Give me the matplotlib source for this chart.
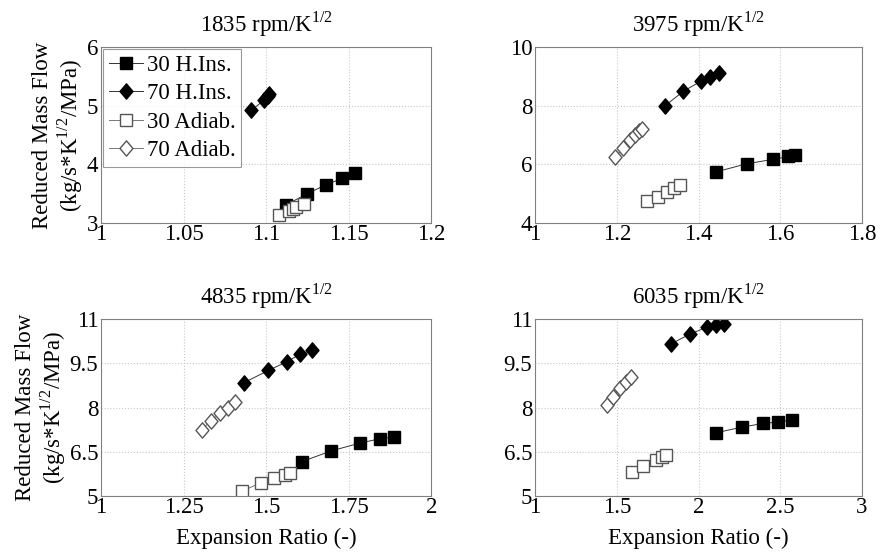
import numpy as np
import matplotlib
matplotlib.use("Agg")
import matplotlib.pyplot as plt
from matplotlib.path import Path

plt.rcParams['font.family'] = ['Liberation Serif', 'DejaVu Serif']
plt.rcParams['mathtext.fontset'] = 'custom'
plt.rcParams['mathtext.rm'] = 'Liberation Serif'

# speeds (rpm/K^1/2)
speeds = [1835, 3975, 4835, 6035]
labels = ["30 H.Ins.", "70 H.Ins.", "30 Adiab.", "70 Adiab."]

# 1835
x_1835_30h = [1.112, 1.125, 1.136, 1.146, 1.154]
y_1835_30h = [3.31, 3.50, 3.65, 3.76, 3.86]
x_1835_70h = [1.091, 1.099, 1.101, 1.102]
y_1835_70h = [4.92, 5.10, 5.16, 5.20]
x_1835_30a = [1.108, 1.114, 1.116, 1.118, 1.123]
y_1835_30a = [3.14, 3.21, 3.24, 3.27, 3.33]
x_1835_70a = []
y_1835_70a = []

# 3975
x_3975_30h = [1.442, 1.518, 1.582, 1.620, 1.636]
y_3975_30h = [5.74, 6.02, 6.17, 6.27, 6.33]
x_3975_70h = [1.318, 1.363, 1.405, 1.428, 1.450]
y_3975_70h = [8.00, 8.49, 8.83, 8.98, 9.11]
x_3975_30a = [1.275, 1.301, 1.323, 1.340, 1.354]
y_3975_30a = [4.74, 4.88, 5.05, 5.19, 5.31]
x_3975_70a = [1.196, 1.216, 1.232, 1.244, 1.254, 1.261]
y_3975_70a = [6.24, 6.56, 6.84, 7.00, 7.12, 7.20]

# 4835
x_4835_30h = [1.609, 1.697, 1.785, 1.844, 1.887]
y_4835_30h = [6.17, 6.53, 6.80, 6.94, 7.00]
x_4835_70h = [1.432, 1.507, 1.564, 1.601, 1.640]
y_4835_70h = [8.84, 9.26, 9.56, 9.80, 9.95]
x_4835_30a = [1.428, 1.484, 1.524, 1.557, 1.573]
y_4835_30a = [5.17, 5.45, 5.61, 5.72, 5.77]
x_4835_70a = [1.306, 1.332, 1.360, 1.385, 1.405]
y_4835_70a = [7.25, 7.55, 7.80, 8.00, 8.20]

# 6035
x_6035_30h = [2.104, 2.267, 2.395, 2.487, 2.572]
y_6035_30h = [7.14, 7.34, 7.46, 7.51, 7.59]
x_6035_70h = [1.829, 1.947, 2.049, 2.106, 2.155]
y_6035_70h = [10.15, 10.49, 10.72, 10.79, 10.82]
x_6035_30a = [1.590, 1.662, 1.737, 1.778, 1.800]
y_6035_30a = [5.80, 6.03, 6.23, 6.33, 6.38]
x_6035_70a = [1.440, 1.479, 1.519, 1.556, 1.587]
y_6035_70a = [8.07, 8.36, 8.65, 8.87, 9.02]

data = {
    1835: [(x_1835_30h, y_1835_30h), (x_1835_70h, y_1835_70h), (x_1835_30a, y_1835_30a), (x_1835_70a, y_1835_70a)],
    3975: [(x_3975_30h, y_3975_30h), (x_3975_70h, y_3975_70h), (x_3975_30a, y_3975_30a), (x_3975_70a, y_3975_70a)],
    4835: [(x_4835_30h, y_4835_30h), (x_4835_70h, y_4835_70h), (x_4835_30a, y_4835_30a), (x_4835_70a, y_4835_70a)],
    6035: [(x_6035_30h, y_6035_30h), (x_6035_70h, y_6035_70h), (x_6035_30a, y_6035_30a), (x_6035_70a, y_6035_70a)],
}

xticks = {1835: [1, 1.05, 1.1, 1.15, 1.2], 3975: [1, 1.2, 1.4, 1.6, 1.8],
          4835: [1, 1.25, 1.5, 1.75, 2], 6035: [1, 1.5, 2, 2.5, 3]}
yticks = {1835: [3, 4, 5, 6], 3975: [4, 6, 8, 10],
          4835: [5, 6.5, 8, 9.5, 11], 6035: [5, 6.5, 8, 9.5, 11]}

# slightly tall diamond like the original
diamond = Path([(0, 1), (0.85, 0), (0, -1), (-0.85, 0), (0, 1)],
               [Path.MOVETO, Path.LINETO, Path.LINETO, Path.LINETO, Path.CLOSEPOLY])

styles = [
    dict(marker='s', ms=8.6, mfc='black', mec='black', color='#333333'),
    dict(marker=diamond, ms=11.0, mfc='black', mec='black', color='#333333'),
    dict(marker='s', ms=8.6, mfc='white', mec='#555555', color='#777777'),
    dict(marker=diamond, ms=11.0, mfc='white', mec='#555555', color='#777777'),
]

fig = plt.figure(figsize=(8.81, 5.53), dpi=100)
positions = [
    [0.1146, 0.5967, 0.3750, 0.3183],
    [0.6073, 0.5967, 0.3712, 0.3183],
    [0.1146, 0.1030, 0.3750, 0.3200],
    [0.6073, 0.1030, 0.3712, 0.3200],
]

fs = 16.5
for i, sp in enumerate(speeds):
    ax = fig.add_axes(positions[i])
    for j, (xs, ys) in enumerate(data[sp]):
        ax.plot(xs, ys, lw=0.7, label=labels[j], **styles[j])
    xt = xticks[sp]
    yt = yticks[sp]
    ax.set_xlim(xt[0], xt[-1])
    ax.set_ylim(yt[0], yt[-1])
    ax.set_xticks(xt)
    ax.set_yticks(yt)
    ax.set_xticklabels([('%g' % v) for v in xt])
    ax.set_yticklabels([('%g' % v) for v in yt])
    ax.tick_params(labelsize=fs, length=0)
    ax.tick_params(axis='x', pad=1)
    ax.tick_params(axis='y', pad=2)
    ax.grid(True, color='#c8c8c8', linestyle=':', linewidth=0.8)
    for s in ax.spines.values():
        s.set_color('#808080')
        s.set_linewidth(0.8)
    ax.set_title('%d rpm/K$^{1/2}$' % sp, fontsize=fs, pad=11)
    if i % 2 == 0:
        ax.set_ylabel('Reduced Mass Flow\n(kg/s*K$^{1/2}$/MPa)', fontsize=fs, labelpad=1,
                      linespacing=1.1)
    if i >= 2:
        ax.set_xlabel('Expansion Ratio (-)', fontsize=fs, labelpad=7)
    if i == 0:
        leg = ax.legend(loc='upper left', fontsize=fs, frameon=True, fancybox=False,
                        borderaxespad=0.1, handlelength=1.5, handletextpad=0.15,
                        borderpad=0.25, labelspacing=0.32)
        leg.get_frame().set_edgecolor('#808080')
        leg.get_frame().set_linewidth(0.8)

fig.savefig('out.png', dpi=100)
